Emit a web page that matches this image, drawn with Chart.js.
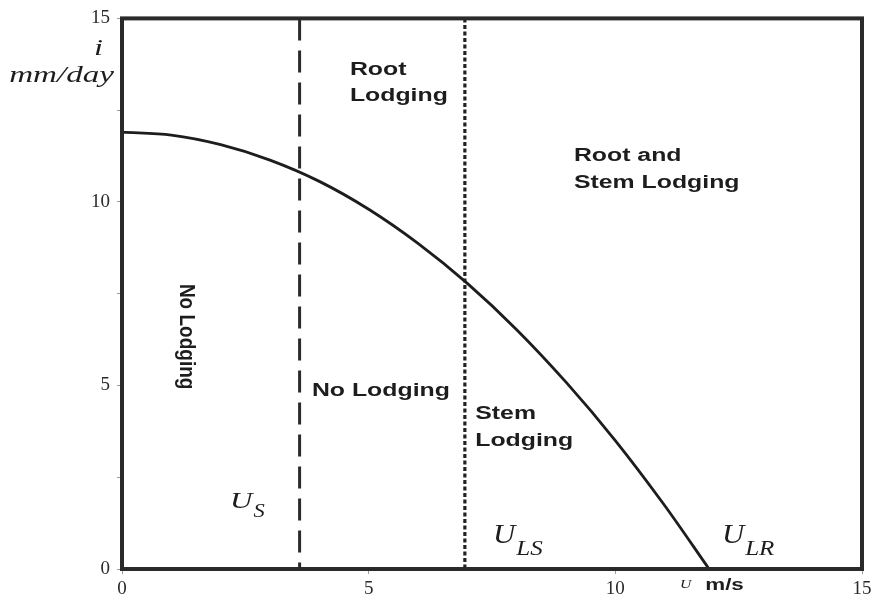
<!DOCTYPE html>
<html>
<head>
<meta charset="utf-8">
<script src="https://cdn.jsdelivr.net/npm/chart.js@4/dist/chart.umd.min.js"></script>
<style>
  html, body { margin: 0; padding: 0; background: #fff; }
  canvas { display: block; }
</style>
</head>
<body>
<canvas id="lodging" width="881" height="601"></canvas>
<script>
// wind speed u (m/s) against rainfall i (mm/day) on the lodging boundary
var windSpeed = [0, 1, 2, 3, 4, 5, 6, 7, 8, 9, 10, 11, 11.9];
var rainRate = [11.9, 11.82, 11.56, 11.14, 10.56, 9.8, 8.87, 7.78, 6.52, 5.09, 3.5, 1.73, 0];
var stemThreshold = 3.6;   // U_S
var rootThreshold = 6.95;  // U_LS
var axisMax = 15;

var ink = "#1d1d1d";

function vline(x) {
  return [{ x: x, y: axisMax }, { x: x, y: 0 }];
}

// draw text squeezed a bit wider, the way the old figure prints it
function wideText(ctx, text, x, y, font, sx) {
  ctx.save();
  ctx.font = font;
  ctx.translate(x, y);
  ctx.scale(sx, 1);
  ctx.fillText(text, 0, 0);
  var w = ctx.measureText(text).width * sx;
  ctx.restore();
  return w;
}

var regionNotes = [
  ["Root", 4.62, 13.6], ["Lodging", 4.62, 12.88],
  ["Root and", 9.16, 11.25], ["Stem Lodging", 9.16, 10.52],
  ["No Lodging", 3.85, 4.86],
  ["Stem", 7.16, 4.21], ["Lodging", 7.16, 3.48]
];

// U with a subscript: [sub, x, baseline y, sub baseline y, size, stretch, sub size]
var speedNotes = [
  ["S", 2.19, 1.66, 1.41, 23, 1.35, 18],
  ["LS", 7.52, 0.71, 0.38, 28, 1.1, 20],
  ["LR", 12.16, 0.71, 0.38, 28, 1.1, 20]
];

var frameAndNotes = {
  id: "frameAndNotes",
  afterDraw: function (chart) {
    var ctx = chart.ctx, a = chart.chartArea;
    var sx = chart.scales.x, sy = chart.scales.y;
    ctx.save();

    // heavy frame round the plot
    ctx.strokeStyle = "#2a2a2a";
    ctx.lineWidth = 4;
    ctx.strokeRect(a.left, a.top, a.right - a.left, a.bottom - a.top);

    ctx.fillStyle = ink;
    ctx.textBaseline = "middle";
    ctx.textAlign = "left";
    regionNotes.forEach(function (n) {
      wideText(ctx, n[0], sx.getPixelForValue(n[1]), sy.getPixelForValue(n[2]),
        "bold 18px 'Liberation Sans', Arial, sans-serif", 1.38);
    });

    // rotated label in the left band
    ctx.save();
    ctx.translate(sx.getPixelForValue(1.3), sy.getPixelForValue(6.33));
    ctx.rotate(Math.PI / 2);
    ctx.scale(1, 1.12);
    ctx.textAlign = "center";
    ctx.font = "bold 19px 'Liberation Sans', Arial, sans-serif";
    ctx.fillText("No Lodging", 0, 0);
    ctx.restore();

    // threshold speeds
    ctx.textBaseline = "alphabetic";
    speedNotes.forEach(function (n) {
      var x = sx.getPixelForValue(n[1]);
      var w = wideText(ctx, "U", x, sy.getPixelForValue(n[2]),
        "italic " + n[4] + "px 'Liberation Serif', 'Times New Roman', serif", n[5]);
      wideText(ctx, n[0], x + w + 1, sy.getPixelForValue(n[3]),
        "italic " + n[6] + "px 'Liberation Serif', 'Times New Roman', serif", 1.25);
    });

    // axis titles
    var ux = sx.getPixelForValue(11.31);
    var uw = wideText(ctx, "U", ux, sy.getPixelForValue(-0.52),
      "italic 12px 'Liberation Serif', serif", 1.3);
    wideText(ctx, "m/s", ux + uw + 14, sy.getPixelForValue(-0.57),
      "bold 16px 'Liberation Sans', Arial, sans-serif", 1.4);

    ctx.textAlign = "right";
    ctx.textBaseline = "middle";
    ctx.save();
    ctx.translate(a.left - 19, sy.getPixelForValue(14.18));
    ctx.scale(1.35, 1);
    ctx.font = "italic 24px 'Liberation Serif', serif";
    ctx.fillText("i", 0, 0);
    ctx.restore();
    ctx.save();
    ctx.translate(a.left - 8, sy.getPixelForValue(13.45));
    ctx.scale(1.38, 1);
    ctx.font = "italic 24px 'Liberation Serif', serif";
    ctx.fillText("mm/day", 0, 0);
    ctx.restore();

    ctx.restore();
  }
};

new Chart(document.getElementById("lodging"), {
  type: "scatter",
  data: {
    datasets: [{
      label: "boundary",
      data: windSpeed.map(function (u, k) { return { x: u, y: rainRate[k] }; }),
      showLine: true,
      borderColor: ink,
      borderWidth: 2.8,
      cubicInterpolationMode: "monotone",
      pointRadius: 0
    }, {
      label: "U_S",
      data: vline(stemThreshold),
      showLine: true,
      borderColor: "#2a2a2a",
      borderWidth: 3,
      borderDash: [22, 10],
      pointRadius: 0
    }, {
      label: "U_LS",
      data: vline(rootThreshold),
      showLine: true,
      borderColor: "#222",
      borderWidth: 3.2,
      borderDash: [4, 2.5],
      pointRadius: 0
    }]
  },
  options: {
    responsive: false,
    animation: false,
    layout: { padding: { top: 17, right: 19, bottom: 0, left: 0 } },
    plugins: { legend: { display: false }, tooltip: { enabled: false } },
    scales: {
      x: {
        type: "linear",
        min: 0, max: axisMax,
        afterFit: function (scale) { scale.height = 32; },
        border: { display: false },
        grid: { drawOnChartArea: false, tickLength: 5, color: "#9a9a9a" },
        ticks: {
          stepSize: 5, padding: 4, color: "#2a2a2a",
          font: { family: "'Liberation Serif', 'Times New Roman', serif", size: 19 }
        }
      },
      y: {
        min: 0, max: axisMax,
        afterFit: function (scale) { scale.width = 122; },
        border: { display: false },
        grid: { drawOnChartArea: false, tickLength: 5, color: "#9a9a9a" },
        ticks: {
          stepSize: 2.5, padding: 7, color: "#2a2a2a",
          font: { family: "'Liberation Serif', 'Times New Roman', serif", size: 19 },
          callback: function (v) { return v % 5 === 0 ? v : ""; }
        }
      }
    }
  },
  plugins: [frameAndNotes]
});
</script>
</body>
</html>
